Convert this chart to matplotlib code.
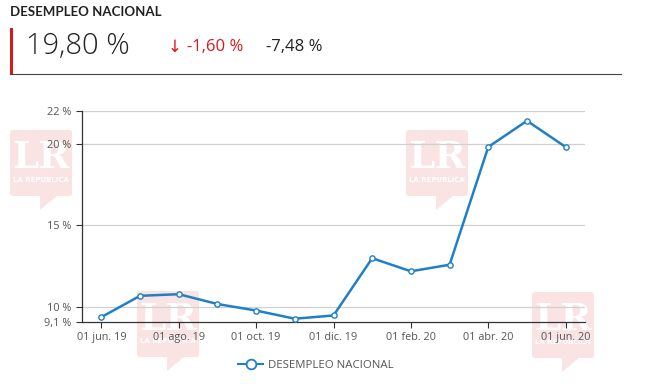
import matplotlib
matplotlib.use("Agg")
import matplotlib.pyplot as plt
from matplotlib.patches import FancyBboxPatch, Polygon, Rectangle
from matplotlib.lines import Line2D

# monthly national unemployment, jun 2019 - jun 2020
months = ["jun. 19", "jul. 19", "ago. 19", "sep. 19", "oct. 19", "nov. 19", "dic. 19",
          "ene. 20", "feb. 20", "mar. 20", "abr. 20", "may. 20", "jun. 20"]
rate = [9.4, 10.7, 10.8, 10.2, 9.8, 9.3, 9.5, 13.0, 12.2, 12.6, 19.8, 21.4, 19.8]

y_ticks = [9.1, 10, 15, 20, 22]
y_labels = ["9,1 %", "10 %", "15 %", "20 %", "22 %"]
x_tick_idx = [0, 2, 4, 6, 8, 10, 12]

title = "DESEMPLEO NACIONAL"
last_value = "19,80 %"
change = "-1,60 %"
change_year = "-7,48 %"

blue = "#1f80c8"
pink = "#f9e3e3"
W, H = 649, 384

fig = plt.figure(figsize=(W / 100, H / 100), dpi=100)


def px(x, y):
    # pixel coords (top-left origin) -> figure fraction
    return x / W, 1 - y / H


# watermark logos behind the chart
def logo(x0, y0, w=62, h=66):
    fx, fy = px(x0, y0 + h)
    box = FancyBboxPatch((fx, fy), w / W, h / H, boxstyle="round,pad=0,rounding_size=0.006",
                         transform=fig.transFigure, fc=pink, ec="none", zorder=0)
    fig.patches.append(box)
    tail = Polygon([px(x0 + 30, y0 + h - 1), px(x0 + 48, y0 + h - 1), px(x0 + 30, y0 + h + 14)],
                   closed=True, transform=fig.transFigure, fc=pink, ec="none", zorder=0)
    fig.patches.append(tail)
    tx, ty = px(x0 + w / 2, y0 + 28)
    fig.text(tx, ty, "LR", color="white", fontsize=27, family="DejaVu Serif",
             fontweight="bold", ha="center", va="center", zorder=0.5)
    tx, ty = px(x0 + w / 2, y0 + 50)
    fig.text(tx, ty, "LA REPÚBLICA", color="white", fontsize=5, fontweight="bold",
             ha="center", va="center", zorder=0.5)


for lx, ly in [(10, 130), (406, 130), (137, 291), (532, 292)]:
    logo(lx, ly)

# header
fig.text(*px(10, 12), title, fontsize=9.5, fontweight="bold", family="Lato",
         color="#222222", va="center", ha="left")
fig.patches.append(Rectangle(px(10, 74), 3 / W, 46 / H, transform=fig.transFigure,
                             fc="#d7191c", ec="none"))
fig.add_artist(Line2D([10 / W, 621 / W], [1 - 73.5 / H, 1 - 73.5 / H],
                      transform=fig.transFigure, color="#444444", lw=0.8))
fig.text(*px(26, 46), last_value, fontsize=21, fontweight="light", family="Open Sans",
         color="#222222", va="center", ha="left")
fig.text(*px(168, 47), "↓", fontsize=12, family="DejaVu Sans", color="#d7191c",
         va="center", ha="left")
fig.text(*px(187, 47), change, fontsize=12, family="Open Sans", color="#d7191c",
         va="center", ha="left")
fig.text(*px(266, 47), change_year, fontsize=12, family="Open Sans", color="#222222",
         va="center", ha="left")

# chart
l, b = px(82, 322)
r, t = px(585, 111)
ax = fig.add_axes([l, b, r - l, t - b])
ax.set_zorder(5)
ax.patch.set_alpha(0)
x = list(range(len(rate)))
ax.plot(x, rate, color=blue, lw=1.8, marker="o", ms=3.8, mfc="white", mec=blue,
        mew=1, zorder=3, label=title)

ax.set_xlim(-0.5, 12.5)
ax.set_ylim(9.1, 22)
ax.set_yticks(y_ticks)
ax.set_yticklabels(y_labels)
ax.set_xticks(x_tick_idx)
ax.set_xticklabels(["01 " + months[i] for i in x_tick_idx])
for yv in y_ticks[1:]:
    ax.axhline(yv, color="#d0d0d0", lw=0.9, zorder=1)

for s in ["top", "right"]:
    ax.spines[s].set_visible(False)
for s in ["left", "bottom"]:
    ax.spines[s].set_color("#333333")
    ax.spines[s].set_linewidth(0.9)
ax.tick_params(axis="both", colors="#333333", labelcolor="#555555", labelsize=7.8,
               length=4, width=0.8)
for lab in ax.get_xticklabels() + ax.get_yticklabels():
    lab.set_family("Open Sans")

leg = fig.legend(handles=[Line2D([], [], color=blue, lw=1.5, marker="o", ms=7,
                                 mfc="white", mec=blue, mew=1.3)],
                 labels=[title], loc="center", bbox_to_anchor=px(316, 365),
                 frameon=False, handlelength=2.2, handletextpad=0.4,
                 prop={"family": "Open Sans", "size": 8.2})
for txt in leg.get_texts():
    txt.set_color("#555555")

fig.savefig("out.png", dpi=100)
